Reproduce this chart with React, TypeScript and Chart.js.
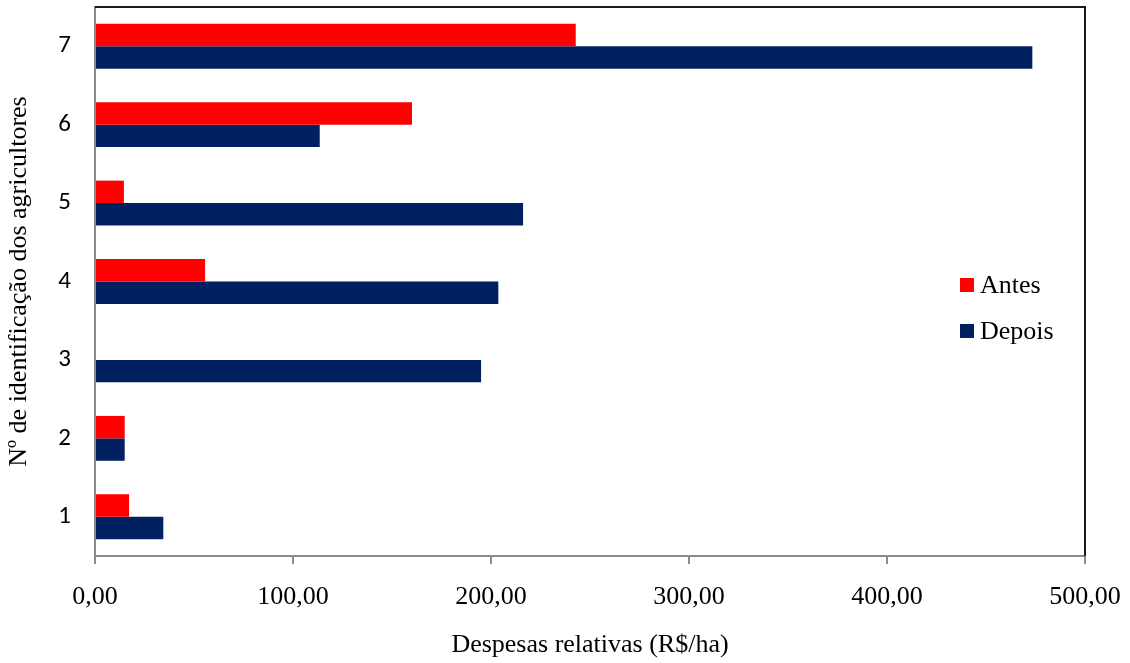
import { useEffect, useRef } from "react";
import { Chart, registerables } from "chart.js";

Chart.register(...registerables);

// Agricultor identifiers, listed from 1 upwards
const agricultores = ["1", "2", "3", "4", "5", "6", "7"];
// Relative expenses (R$/ha) before and after
const antes = [17.2, 15.0, 0, 55.6, 14.6, 160.1, 242.8];
const depois = [34.5, 15.0, 195.0, 203.7, 216.2, 113.5, 473.4];
const serieNomes = ["Antes", "Depois"];
const serieCores = ["#ff0000", "#002060"];
const xMin = 0;
const xMax = 500;
const xPasso = 100;

const SERIF = "'Liberation Serif', 'Times New Roman', serif";
const SANS = "Carlito, Calibri, Lato, sans-serif";

const fmt = (v: number) => v.toFixed(2).replace(".", ",");

// Black frame on the top and right of the plot area
const framePlugin = {
  id: "plotFrame",
  afterDraw(chart: any) {
    const { ctx, chartArea } = chart;
    ctx.save();
    ctx.strokeStyle = "#1a1a1a";
    ctx.lineWidth = 2;
    ctx.beginPath();
    ctx.moveTo(chartArea.left, chartArea.top);
    ctx.lineTo(chartArea.right, chartArea.top);
    ctx.lineTo(chartArea.right, chartArea.bottom);
    ctx.stroke();
    ctx.restore();
  },
};

// Legend placed inside the plot area, at the right
const legendPlugin = {
  id: "insideLegend",
  afterDraw(chart: any) {
    const { ctx, chartArea } = chart;
    const boxX = chartArea.right - 125;
    const rows = [chartArea.top + 278, chartArea.top + 324];
    ctx.save();
    ctx.font = `26px ${SERIF}`;
    ctx.textBaseline = "middle";
    ctx.textAlign = "left";
    chart.data.datasets.forEach((ds: any, i: number) => {
      const cy = rows[i];
      ctx.fillStyle = ds.backgroundColor;
      ctx.fillRect(boxX, cy - 7, 14, 14);
      ctx.fillStyle = "#000";
      ctx.fillText(ds.label, boxX + 20, cy + 1);
    });
    ctx.restore();
  },
};

export default function App() {
  const ref = useRef<HTMLCanvasElement>(null);

  useEffect(() => {
    if (!ref.current) return;
    // Top category first so that agricultor 7 sits at the top
    const labels = [...agricultores].reverse();
    const chart = new Chart(ref.current, {
      type: "bar",
      data: {
        labels,
        datasets: [
          {
            label: serieNomes[0],
            data: [...antes].reverse(),
            backgroundColor: serieCores[0],
            categoryPercentage: 0.572,
            barPercentage: 1,
          },
          {
            label: serieNomes[1],
            data: [...depois].reverse(),
            backgroundColor: serieCores[1],
            categoryPercentage: 0.572,
            barPercentage: 1,
          },
        ],
      },
      options: {
        indexAxis: "y",
        responsive: false,
        animation: false,
        layout: { padding: { top: 7, right: 45, left: 0, bottom: 0 } },
        plugins: {
          legend: { display: false },
          tooltip: { enabled: false },
        },
        scales: {
          x: {
            min: xMin,
            max: xMax,
            afterBuildTicks: (scale: any) => {
              const t = [];
              for (let v = xMin; v <= xMax; v += xPasso) t.push({ value: v });
              scale.ticks = t;
            },
            afterFit: (scale: any) => {
              scale.height = 107;
              scale.paddingLeft = 0;
              scale.paddingRight = 0;
            },
            grid: {
              drawOnChartArea: false,
              drawTicks: true,
              tickLength: 8,
              color: "#8a8a8a",
              lineWidth: 2,
            },
            border: { display: true, color: "#8a8a8a", width: 2 },
            ticks: {
              color: "#000",
              padding: 18,
              maxRotation: 0,
              font: { family: SERIF, size: 26 },
              callback: (v: any) => fmt(Number(v)),
            },
            title: {
              display: true,
              text: "Despesas relativas (R$/ha)",
              color: "#000",
              font: { family: SERIF, size: 26, lineHeight: 1.2 },
              padding: { top: 0, bottom: 2 },
            },
          },
          y: {
            afterFit: (scale: any) => {
              scale.width = 95;
              scale.paddingTop = 0;
              scale.paddingBottom = 0;
            },
            grid: {
              drawOnChartArea: false,
              drawTicks: false,
            },
            border: { display: true, color: "#8a8a8a", width: 2 },
            ticks: {
              color: "#000",
              padding: 24,
              font: { family: SANS, size: 25 },
            },
            title: {
              display: true,
              text: "Nº de identificação dos agricultores",
              color: "#000",
              font: { family: SERIF, size: 26, lineHeight: 1.2 },
              padding: { top: 4, bottom: 0 },
            },
          },
        },
      },
      plugins: [framePlugin, legendPlugin],
    });
    return () => chart.destroy();
  }, []);

  return (
    <div style={{ position: "absolute", left: 0, top: 0, width: 1130, height: 663, background: "#fff" }}>
      <canvas ref={ref} width={1130} height={663} style={{ display: "block" }} />
    </div>
  );
}
